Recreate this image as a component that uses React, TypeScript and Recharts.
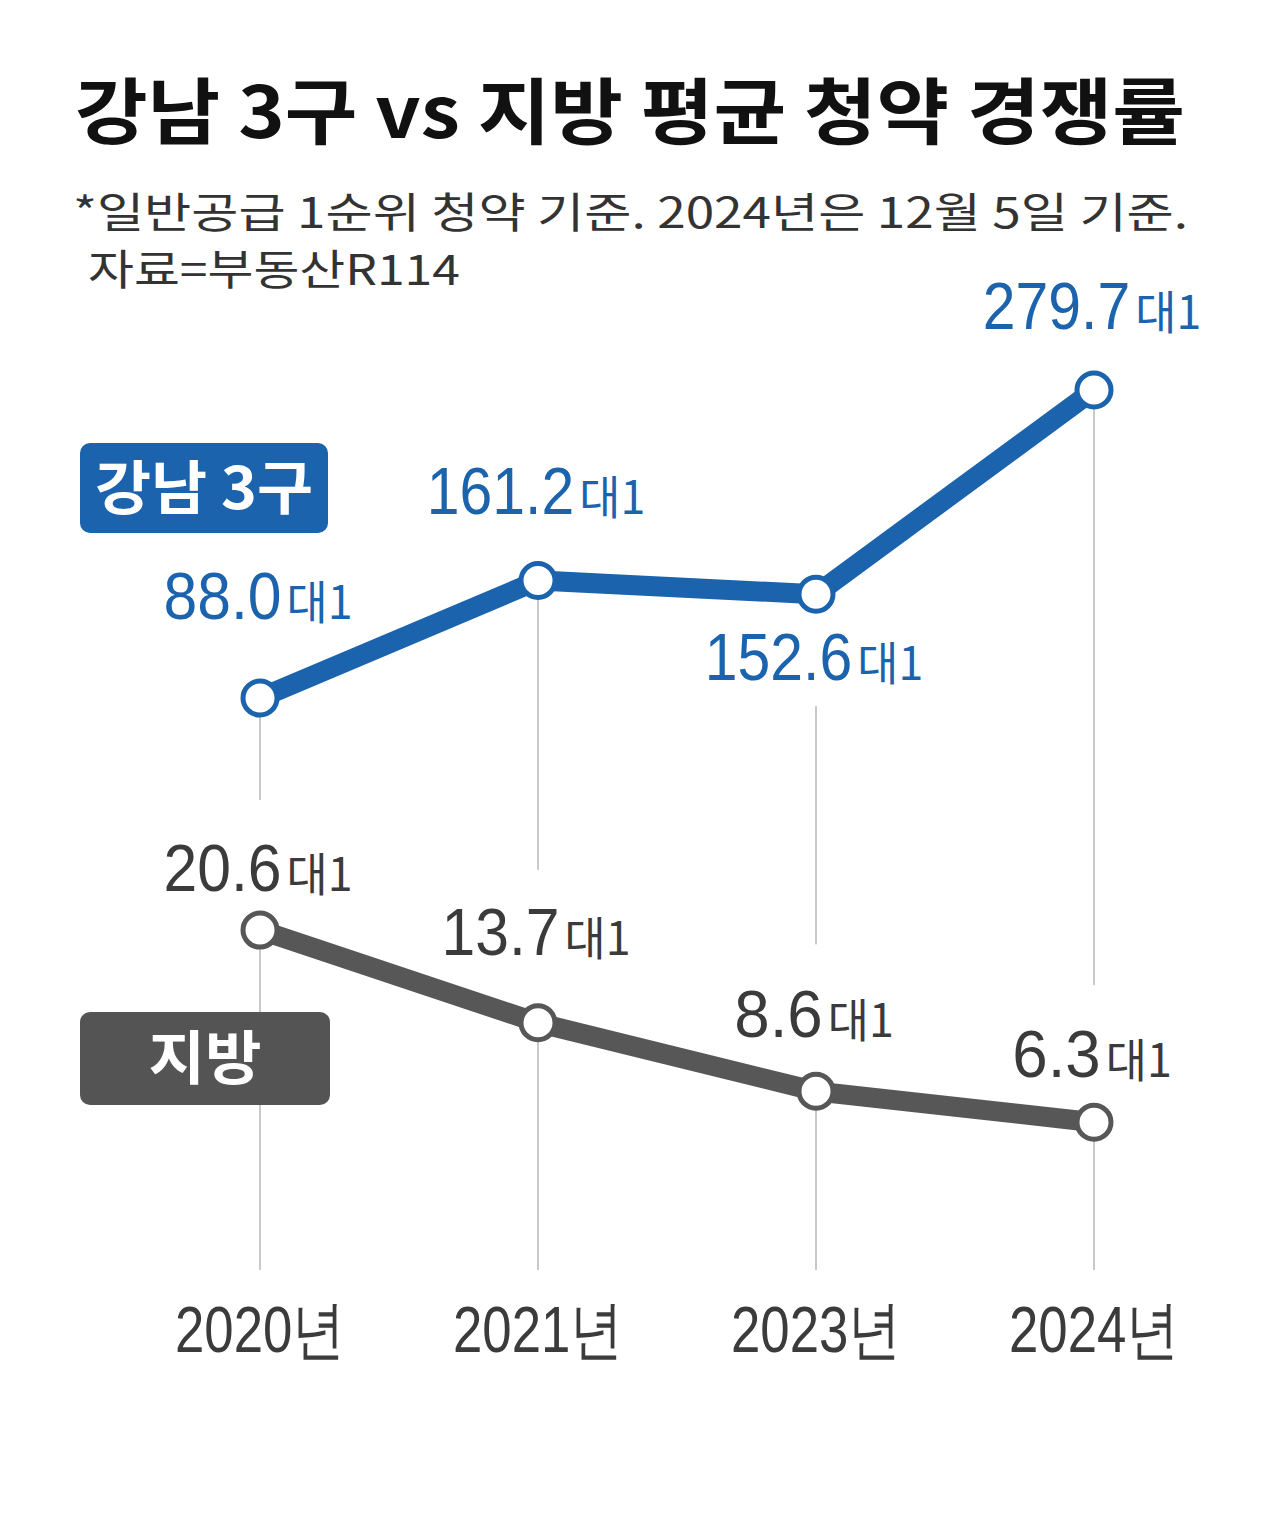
import { LineChart, Line, XAxis, YAxis, LabelList } from "recharts"

document.body.style.margin = "0"

// data
const years = ["2020년", "2021년", "2023년", "2024년"]
const gangnam = [88.0, 161.2, 152.6, 279.7]
const regional = [20.6, 13.7, 8.6, 6.3]

const data = years.map((year, i) => ({
  year,
  gangnam: gangnam[i],
  regional: regional[i],
}))

// layout
const W = 1280
const H = 1521
const MARGIN = { top: 300, right: 186, bottom: 161, left: 260 }
const X_AXIS_H = 90
const PLOT_BOTTOM = H - MARGIN.bottom - X_AXIS_H

const BLUE = "#1b63ad"
const GRAY = "#575757"
const GRAY_TEXT = "#3b3b3b"
const GUIDE = "#c9c9c9"

const NUM_FONT = "'Liberation Sans Narrow', 'Liberation Sans', Arial, sans-serif"
const KR_FONT = "'Noto Sans CJK KR', 'Noto Sans', sans-serif"

// label baseline offset from point, per point
const gangnamLabelDy = [-79, -66, 86, -61]
const regionalLabelDy = [-39, -68, -54, -45]
// where the guide line starts below the blue point (gap for a label below it)
const guideStartGap = [0, 0, 112, 0]
// how far above the gray point the guide is hidden (gap for the gray label)
const guideHideAbove = [130, 153, 147, 137]

function makeLabel(color: string, dys: number[]) {
  return (props: any) => {
    const { x, y, index, value } = props
    const num = Number(value).toFixed(1)
    const numW = num.length * 29.5
    const unitW = 66
    const total = numW + 5 + unitW
    const left = x - 2 - total / 2
    const base = y + dys[index]
    return (
      <g>
        <text
          x={left}
          y={base}
          fontSize={66}
          fill={color}
          fontFamily={NUM_FONT}
          textLength={numW}
          lengthAdjust="spacingAndGlyphs"
        >
          {num}
        </text>
        <text
          x={left + numW + 5}
          y={base}
          fontSize={46}
          fill={color}
          fontFamily={KR_FONT}
          textLength={unitW}
          lengthAdjust="spacingAndGlyphs"
        >
          대1
        </text>
      </g>
    )
  }
}

function YearTick({ x, y, payload }: any) {
  return (
    <text
      x={x}
      y={y + 82}
      textAnchor="middle"
      fontSize={64}
      fill={GRAY_TEXT}
      fontFamily={NUM_FONT}
      textLength={170}
      lengthAdjust="spacingAndGlyphs"
    >
      {payload.value}
    </text>
  )
}

export default function App() {
  return (
    <div style={{ position: "relative", width: W, height: H, background: "#fff" }}>
      <LineChart width={W} height={H} data={data} margin={MARGIN}>
        <XAxis
          dataKey="year"
          axisLine={false}
          tickLine={false}
          tickSize={0}
          tickMargin={0}
          height={X_AXIS_H}
          interval={0}
          padding={{ left: 0, right: 0 }}
          tick={<YearTick />}
        />
        <YAxis yAxisId="a" hide type="number" domain={[-267.9, 335.7]} allowDataOverflow />
        <YAxis yAxisId="b" hide type="number" domain={[-4.7, 67.5]} allowDataOverflow />

        {/* vertical guide lines from each blue point down to the axis */}
        <Line
          yAxisId="a"
          dataKey="gangnam"
          stroke="none"
          isAnimationActive={false}
          activeDot={false}
          dot={(p: any) => (
            <line
              key={`g-${p.index}`}
              x1={p.cx}
              x2={p.cx}
              y1={p.cy + guideStartGap[p.index]}
              y2={PLOT_BOTTOM + 2}
              stroke={GUIDE}
              strokeWidth={2}
            />
          )}
        />
        {/* gap in the guide where the gray labels sit */}
        <Line
          yAxisId="b"
          dataKey="regional"
          stroke="none"
          isAnimationActive={false}
          activeDot={false}
          dot={(p: any) => (
            <rect
              key={`c-${p.index}`}
              x={p.cx - 4}
              y={p.cy - guideHideAbove[p.index]}
              width={8}
              height={guideHideAbove[p.index]}
              fill="#fff"
            />
          )}
        />

        <Line
          yAxisId="a"
          dataKey="gangnam"
          stroke={BLUE}
          strokeWidth={20}
          isAnimationActive={false}
          activeDot={false}
          dot={{ r: 17, fill: "#fff", stroke: BLUE, strokeWidth: 5 }}
        >
          <LabelList dataKey="gangnam" content={makeLabel(BLUE, gangnamLabelDy)} />
        </Line>
        <Line
          yAxisId="b"
          dataKey="regional"
          stroke={GRAY}
          strokeWidth={20}
          isAnimationActive={false}
          activeDot={false}
          dot={{ r: 17, fill: "#fff", stroke: GRAY, strokeWidth: 5 }}
        >
          <LabelList dataKey="regional" content={makeLabel(GRAY_TEXT, regionalLabelDy)} />
        </Line>
      </LineChart>

      <svg
        width={W}
        height={H}
        style={{ position: "absolute", left: 0, top: 0, pointerEvents: "none" }}
      >
        <text
          x={75}
          y={138}
          fontSize={72}
          fontWeight={700}
          fill="#111"
          fontFamily={KR_FONT}
          textLength={1110}
          lengthAdjust="spacingAndGlyphs"
        >
          강남 3구 vs 지방 평균 청약 경쟁률
        </text>
        <text
          x={73}
          y={228}
          fontSize={42}
          fill="#333"
          fontFamily={KR_FONT}
          textLength={1115}
          lengthAdjust="spacingAndGlyphs"
        >
          *일반공급 1순위 청약 기준. 2024년은 12월 5일 기준.
        </text>
        <text
          x={88}
          y={285}
          fontSize={42}
          fill="#333"
          fontFamily={KR_FONT}
          textLength={372}
          lengthAdjust="spacingAndGlyphs"
        >
          자료=부동산R114
        </text>

        <rect x={80} y={443} width={248} height={90} rx={10} fill={BLUE} />
        <text
          x={204}
          y={509}
          textAnchor="middle"
          fontSize={58}
          fontWeight={700}
          fill="#fff"
          fontFamily={KR_FONT}
          textLength={218}
          lengthAdjust="spacingAndGlyphs"
        >
          강남 3구
        </text>

        <rect x={80} y={1012} width={250} height={93} rx={10} fill="#545454" />
        <text
          x={205}
          y={1079}
          textAnchor="middle"
          fontSize={58}
          fontWeight={700}
          fill="#fff"
          fontFamily={KR_FONT}
          textLength={113}
          lengthAdjust="spacingAndGlyphs"
        >
          지방
        </text>
      </svg>
    </div>
  )
}
